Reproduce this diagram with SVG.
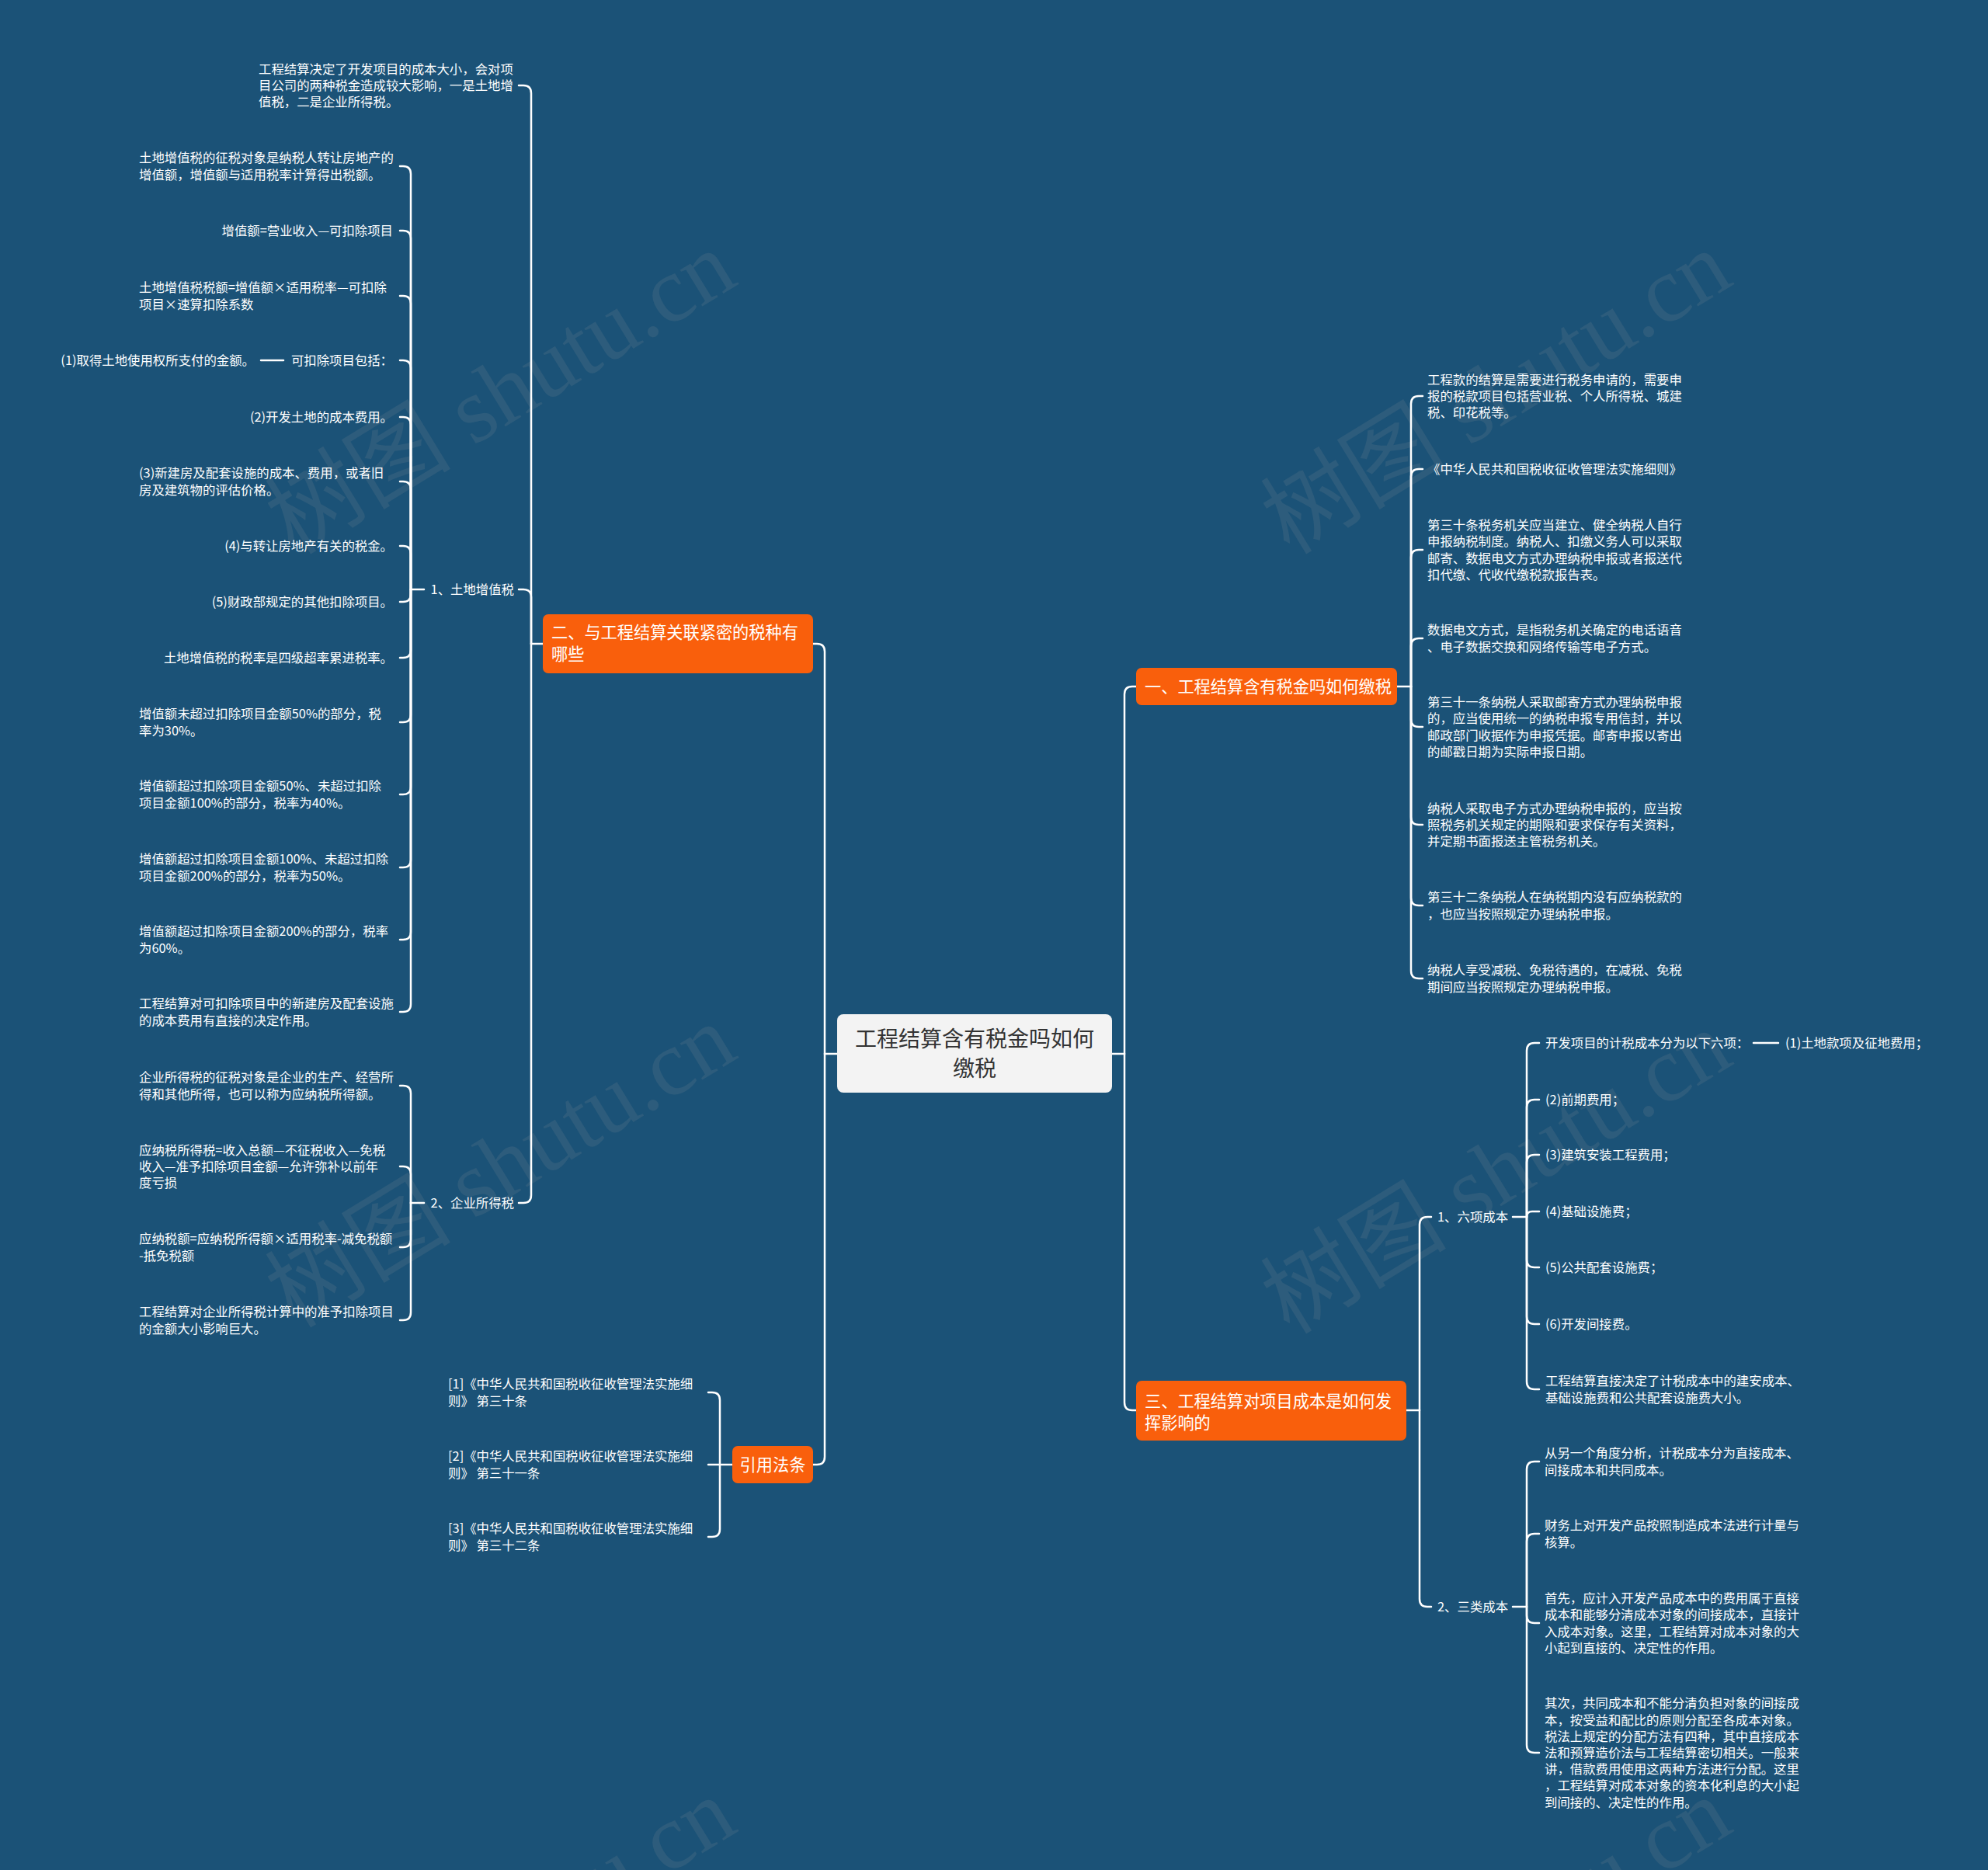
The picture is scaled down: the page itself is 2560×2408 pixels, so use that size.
<svg xmlns="http://www.w3.org/2000/svg" width="2560" height="2408" viewBox="0 0 2560 2408">
<style>
.t{font-family:"Noto Sans CJK SC","Noto Sans",sans-serif;font-size:16.4px;fill:#ffffff}
.e{text-anchor:end}
.o{font-family:"Noto Sans CJK SC","Noto Sans",sans-serif;font-size:21.2px;fill:#ffffff}
.ob{fill:#f95f0c}
.c{fill:none;stroke:#ffffff;stroke-width:2.5;stroke-linecap:round}
.wm{font-family:"Liberation Serif","Noto Sans CJK SC",serif;font-size:120px;fill:#9a9a9a;fill-opacity:0.14;text-anchor:middle}
</style>
<rect x="0" y="0" width="2560" height="2408" fill="#1b5277"/>
<g id="watermarks">
<text class="wm" transform="translate(645,506) rotate(-31.4)" y="40">树图 shutu.cn</text>
<text class="wm" transform="translate(1927,506) rotate(-31.4)" y="40">树图 shutu.cn</text>
<text class="wm" transform="translate(645,1502) rotate(-31.4)" y="40">树图 shutu.cn</text>
<text class="wm" transform="translate(1927,1510) rotate(-31.4)" y="40">树图 shutu.cn</text>
<text class="wm" transform="translate(645,2498) rotate(-31.4)" y="40">树图 shutu.cn</text>
<text class="wm" transform="translate(1927,2498) rotate(-31.4)" y="40">树图 shutu.cn</text>
</g>
<g id="connectors">
<path class="c" d="M1078 1357 H1062"/>
<path class="c" d="M1062 1357 V839 Q1062 829 1052 829 H1047"/>
<path class="c" d="M1062 1357 V1876 Q1062 1886 1052 1886 H1047"/>
<path class="c" d="M1432 1357 H1448"/>
<path class="c" d="M1448 1357 V894 Q1448 884 1458 884 H1463"/>
<path class="c" d="M1448 1357 V1806 Q1448 1816 1458 1816 H1463"/>
<path class="c" d="M699 829 H684"/>
<path class="c" d="M684 829 V120 Q684 110 674 110 H668"/>
<path class="c" d="M684 829 V769 Q684 759 674 759 H668"/>
<path class="c" d="M684 829 V1539 Q684 1549 674 1549 H668"/>
<path class="c" d="M546 759 H529"/>
<path class="c" d="M529 759 V224 Q529 214 519 214 H515"/>
<path class="c" d="M529 759 V307 Q529 297 519 297 H515"/>
<path class="c" d="M529 759 V391 Q529 381 519 381 H515"/>
<path class="c" d="M529 759 V474 Q529 464 519 464 H515"/>
<path class="c" d="M529 759 V547 Q529 537 519 537 H515"/>
<path class="c" d="M529 759 V630 Q529 620 519 620 H515"/>
<path class="c" d="M529 759 V713 Q529 703 519 703 H515"/>
<path class="c" d="M529 759 V765 Q529 775 519 775 H515"/>
<path class="c" d="M529 759 V837 Q529 847 519 847 H515"/>
<path class="c" d="M529 759 V920 Q529 930 519 930 H515"/>
<path class="c" d="M529 759 V1013 Q529 1023 519 1023 H515"/>
<path class="c" d="M529 759 V1107 Q529 1117 519 1117 H515"/>
<path class="c" d="M529 759 V1200 Q529 1210 519 1210 H515"/>
<path class="c" d="M529 759 V1293 Q529 1303 519 1303 H515"/>
<path class="c" d="M336 464 H365"/>
<path class="c" d="M546 1549 H529"/>
<path class="c" d="M529 1549 V1408 Q529 1398 519 1398 H515"/>
<path class="c" d="M529 1549 V1512 Q529 1502 519 1502 H515"/>
<path class="c" d="M529 1549 V1596 Q529 1606 519 1606 H515"/>
<path class="c" d="M529 1549 V1690 Q529 1700 519 1700 H515"/>
<path class="c" d="M943 1886 H927"/>
<path class="c" d="M927 1886 V1803 Q927 1793 917 1793 H912"/>
<path class="c" d="M927 1886 H912"/>
<path class="c" d="M927 1886 V1969 Q927 1979 917 1979 H912"/>
<path class="c" d="M1799 884 H1817"/>
<path class="c" d="M1817 884 V520 Q1817 510 1827 510 H1832"/>
<path class="c" d="M1817 884 V614 Q1817 604 1827 604 H1832"/>
<path class="c" d="M1817 884 V718 Q1817 708 1827 708 H1832"/>
<path class="c" d="M1817 884 V832 Q1817 822 1827 822 H1832"/>
<path class="c" d="M1817 884 V926 Q1817 936 1827 936 H1832"/>
<path class="c" d="M1817 884 V1052 Q1817 1062 1827 1062 H1832"/>
<path class="c" d="M1817 884 V1156 Q1817 1166 1827 1166 H1832"/>
<path class="c" d="M1817 884 V1250 Q1817 1260 1827 1260 H1832"/>
<path class="c" d="M1811 1816 H1828"/>
<path class="c" d="M1828 1816 V1577 Q1828 1567 1838 1567 H1843"/>
<path class="c" d="M1828 1816 V2059 Q1828 2069 1838 2069 H1843"/>
<path class="c" d="M1948 1567 H1966"/>
<path class="c" d="M1966 1567 V1353 Q1966 1343 1976 1343 H1982"/>
<path class="c" d="M1966 1567 V1426 Q1966 1416 1976 1416 H1982"/>
<path class="c" d="M1966 1567 V1497 Q1966 1487 1976 1487 H1982"/>
<path class="c" d="M1966 1567 Q1966 1560 1973 1560 H1982"/>
<path class="c" d="M1966 1567 V1622 Q1966 1632 1976 1632 H1982"/>
<path class="c" d="M1966 1567 V1695 Q1966 1705 1976 1705 H1982"/>
<path class="c" d="M1966 1567 V1779 Q1966 1789 1976 1789 H1982"/>
<path class="c" d="M2258 1343 H2290"/>
<path class="c" d="M1948 2069 H1966"/>
<path class="c" d="M1966 2069 V1892 Q1966 1882 1976 1882 H1982"/>
<path class="c" d="M1966 2069 V1985 Q1966 1975 1976 1975 H1982"/>
<path class="c" d="M1966 2069 V2080 Q1966 2090 1976 2090 H1982"/>
<path class="c" d="M1966 2069 V2247 Q1966 2257 1976 2257 H1982"/>
</g>
<g id="root">
<rect x="1078" y="1306" width="354" height="101" rx="8" fill="#f3f3f3"/>
<text x="1255" y="1348" text-anchor="middle" style="font-family:'Noto Sans CJK SC',sans-serif;font-size:28px;fill:#333333"><tspan x="1255">工程结算含有税金吗如何</tspan><tspan x="1255" dy="38">缴税</tspan></text>
</g>
<g id="n-two">
<rect class="ob" x="699" y="791" width="348" height="76" rx="7"/>
<text class="o" x="710" y="822"><tspan x="710">二、与工程结算关联紧密的税种有</tspan><tspan x="710" dy="28">哪些</tspan></text>
</g>
<g id="n-one">
<rect class="ob" x="1463" y="860" width="336" height="48" rx="7"/>
<text class="o" x="1474" y="891.5">一、工程结算含有税金吗如何缴税</text>
</g>
<g id="n-three">
<rect class="ob" x="1463" y="1778" width="348" height="77" rx="7"/>
<text class="o" x="1474" y="1812"><tspan x="1474">三、工程结算对项目成本是如何发</tspan><tspan x="1474" dy="28">挥影响的</tspan></text>
</g>
<g id="n-ref">
<rect class="ob" x="943" y="1862" width="104" height="48" rx="7"/>
<text class="o" x="995" y="1893.5" text-anchor="middle">引用法条</text>
</g>
<g id="a-intro">
<text class="t" x="333" y="94.8"><tspan x="333">工程结算决定了开发项目的成本大小，会对项</tspan><tspan x="333" dy="21.2">目公司的两种税金造成较大影响，一是土地增</tspan><tspan x="333" dy="21.2">值税，二是企业所得税。</tspan></text>
</g>
<g id="a-land">
<text class="t e" x="662" y="765">1、土地增值税</text>
</g>
<g id="a-corp">
<text class="t e" x="662" y="1555">2、企业所得税</text>
</g>
<g id="land-1"><text class="t" x="179" y="209.4"><tspan x="179">土地增值税的征税对象是纳税人转让房地产的</tspan><tspan x="179" dy="21.2">增值额，增值额与适用税率计算得出税额。</tspan></text></g>
<g id="land-2"><text class="t e" x="506" y="303">增值额=营业收入—可扣除项目</text></g>
<g id="land-3"><text class="t" x="179" y="376.4"><tspan x="179">土地增值税税额=增值额×适用税率—可扣除</tspan><tspan x="179" dy="21.2">项目×速算扣除系数</tspan></text></g>
<g id="land-4"><text class="t e" x="506" y="470">可扣除项目包括：</text></g>
<g id="land-4a"><text class="t e" x="328" y="470">(1)取得土地使用权所支付的金额。</text></g>
<g id="land-5"><text class="t e" x="506" y="543">(2)开发土地的成本费用。</text></g>
<g id="land-6"><text class="t" x="179" y="615.4"><tspan x="179">(3)新建房及配套设施的成本、费用，或者旧</tspan><tspan x="179" dy="21.2">房及建筑物的评估价格。</tspan></text></g>
<g id="land-7"><text class="t e" x="506" y="709">(4)与转让房地产有关的税金。</text></g>
<g id="land-8"><text class="t e" x="506" y="781">(5)财政部规定的其他扣除项目。</text></g>
<g id="land-9"><text class="t e" x="506" y="853">土地增值税的税率是四级超率累进税率。</text></g>
<g id="land-10"><text class="t" x="179" y="925.4"><tspan x="179">增值额未超过扣除项目金额50%的部分，税</tspan><tspan x="179" dy="21.2">率为30%。</tspan></text></g>
<g id="land-11"><text class="t" x="179" y="1018.4"><tspan x="179">增值额超过扣除项目金额50%、未超过扣除</tspan><tspan x="179" dy="21.2">项目金额100%的部分，税率为40%。</tspan></text></g>
<g id="land-12"><text class="t" x="179" y="1112.4"><tspan x="179">增值额超过扣除项目金额100%、未超过扣除</tspan><tspan x="179" dy="21.2">项目金额200%的部分，税率为50%。</tspan></text></g>
<g id="land-13"><text class="t" x="179" y="1205.4"><tspan x="179">增值额超过扣除项目金额200%的部分，税率</tspan><tspan x="179" dy="21.2">为60%。</tspan></text></g>
<g id="land-14"><text class="t" x="179" y="1298.4"><tspan x="179">工程结算对可扣除项目中的新建房及配套设施</tspan><tspan x="179" dy="21.2">的成本费用有直接的决定作用。</tspan></text></g>
<g id="corp-1"><text class="t" x="179" y="1393.4"><tspan x="179">企业所得税的征税对象是企业的生产、经营所</tspan><tspan x="179" dy="21.2">得和其他所得，也可以称为应纳税所得额。</tspan></text></g>
<g id="corp-2"><text class="t" x="179" y="1486.8"><tspan x="179">应纳税所得税=收入总额—不征税收入—免税</tspan><tspan x="179" dy="21.2">收入—准予扣除项目金额—允许弥补以前年</tspan><tspan x="179" dy="21.2">度亏损</tspan></text></g>
<g id="corp-3"><text class="t" x="179" y="1601.4"><tspan x="179">应纳税额=应纳税所得额×适用税率-减免税额</tspan><tspan x="179" dy="21.2">-抵免税额</tspan></text></g>
<g id="corp-4"><text class="t" x="179" y="1695.4"><tspan x="179">工程结算对企业所得税计算中的准予扣除项目</tspan><tspan x="179" dy="21.2">的金额大小影响巨大。</tspan></text></g>
<g id="ref-1"><text class="t" x="577" y="1788.4"><tspan x="577">[1]《中华人民共和国税收征收管理法实施细</tspan><tspan x="577" dy="21.2">则》 第三十条</tspan></text></g>
<g id="ref-2"><text class="t" x="577" y="1881.4"><tspan x="577">[2]《中华人民共和国税收征收管理法实施细</tspan><tspan x="577" dy="21.2">则》 第三十一条</tspan></text></g>
<g id="ref-3"><text class="t" x="577" y="1974.4"><tspan x="577">[3]《中华人民共和国税收征收管理法实施细</tspan><tspan x="577" dy="21.2">则》 第三十二条</tspan></text></g>
<g id="one-1"><text class="t" x="1838" y="494.8"><tspan x="1838">工程款的结算是需要进行税务申请的，需要申</tspan><tspan x="1838" dy="21.2">报的税款项目包括营业税、个人所得税、城建</tspan><tspan x="1838" dy="21.2">税、印花税等。</tspan></text></g>
<g id="one-2"><text class="t" x="1838" y="610">《中华人民共和国税收征收管理法实施细则》</text></g>
<g id="one-3"><text class="t" x="1838" y="682.2"><tspan x="1838">第三十条税务机关应当建立、健全纳税人自行</tspan><tspan x="1838" dy="21.2">申报纳税制度。纳税人、扣缴义务人可以采取</tspan><tspan x="1838" dy="21.2">邮寄、数据电文方式办理纳税申报或者报送代</tspan><tspan x="1838" dy="21.2">扣代缴、代收代缴税款报告表。</tspan></text></g>
<g id="one-4"><text class="t" x="1838" y="817.4"><tspan x="1838">数据电文方式，是指税务机关确定的电话语音</tspan><tspan x="1838" dy="21.2">、电子数据交换和网络传输等电子方式。</tspan></text></g>
<g id="one-5"><text class="t" x="1838" y="910.2"><tspan x="1838">第三十一条纳税人采取邮寄方式办理纳税申报</tspan><tspan x="1838" dy="21.2">的，应当使用统一的纳税申报专用信封，并以</tspan><tspan x="1838" dy="21.2">邮政部门收据作为申报凭据。邮寄申报以寄出</tspan><tspan x="1838" dy="21.2">的邮戳日期为实际申报日期。</tspan></text></g>
<g id="one-6"><text class="t" x="1838" y="1046.8"><tspan x="1838">纳税人采取电子方式办理纳税申报的，应当按</tspan><tspan x="1838" dy="21.2">照税务机关规定的期限和要求保存有关资料，</tspan><tspan x="1838" dy="21.2">并定期书面报送主管税务机关。</tspan></text></g>
<g id="one-7"><text class="t" x="1838" y="1161.4"><tspan x="1838">第三十二条纳税人在纳税期内没有应纳税款的</tspan><tspan x="1838" dy="21.2">，也应当按照规定办理纳税申报。</tspan></text></g>
<g id="one-8"><text class="t" x="1838" y="1255.4"><tspan x="1838">纳税人享受减税、免税待遇的，在减税、免税</tspan><tspan x="1838" dy="21.2">期间应当按照规定办理纳税申报。</tspan></text></g>
<g id="three-six"><text class="t" x="1851" y="1573">1、六项成本</text></g>
<g id="three-three"><text class="t" x="1851" y="2075">2、三类成本</text></g>
<g id="six-0"><text class="t" x="1990" y="1349">开发项目的计税成本分为以下六项：</text></g>
<g id="six-1"><text class="t" x="2299" y="1349">(1)土地款项及征地费用；</text></g>
<g id="six-2"><text class="t" x="1990" y="1422">(2)前期费用；</text></g>
<g id="six-3"><text class="t" x="1990" y="1493">(3)建筑安装工程费用；</text></g>
<g id="six-4"><text class="t" x="1990" y="1566">(4)基础设施费；</text></g>
<g id="six-5"><text class="t" x="1990" y="1638">(5)公共配套设施费；</text></g>
<g id="six-6"><text class="t" x="1990" y="1711">(6)开发间接费。</text></g>
<g id="six-7"><text class="t" x="1990" y="1784.4"><tspan x="1990">工程结算直接决定了计税成本中的建安成本、</tspan><tspan x="1990" dy="21.2">基础设施费和公共配套设施费大小。</tspan></text></g>
<g id="three-1"><text class="t" x="1989" y="1877.4"><tspan x="1989">从另一个角度分析，计税成本分为直接成本、</tspan><tspan x="1989" dy="21.2">间接成本和共同成本。</tspan></text></g>
<g id="three-2"><text class="t" x="1989" y="1970.4"><tspan x="1989">财务上对开发产品按照制造成本法进行计量与</tspan><tspan x="1989" dy="21.2">核算。</tspan></text></g>
<g id="three-3"><text class="t" x="1989" y="2064.2"><tspan x="1989">首先，应计入开发产品成本中的费用属于直接</tspan><tspan x="1989" dy="21.2">成本和能够分清成本对象的间接成本，直接计</tspan><tspan x="1989" dy="21.2">入成本对象。这里，工程结算对成本对象的大</tspan><tspan x="1989" dy="21.2">小起到直接的、决定性的作用。</tspan></text></g>
<g id="three-4"><text class="t" x="1989" y="2199.4"><tspan x="1989">其次，共同成本和不能分清负担对象的间接成</tspan><tspan x="1989" dy="21.2">本，按受益和配比的原则分配至各成本对象。</tspan><tspan x="1989" dy="21.2">税法上规定的分配方法有四种，其中直接成本</tspan><tspan x="1989" dy="21.2">法和预算造价法与工程结算密切相关。一般来</tspan><tspan x="1989" dy="21.2">讲，借款费用使用这两种方法进行分配。这里</tspan><tspan x="1989" dy="21.2">，工程结算对成本对象的资本化利息的大小起</tspan><tspan x="1989" dy="21.2">到间接的、决定性的作用。</tspan></text></g>
</svg>
